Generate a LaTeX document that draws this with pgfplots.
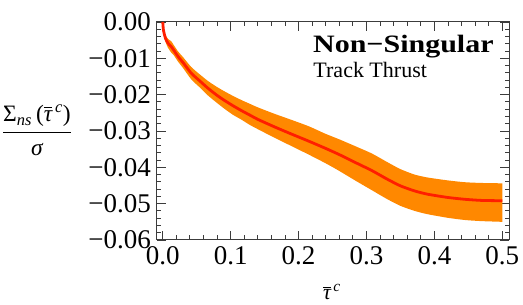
\documentclass[border=0pt]{standalone}
\usepackage{fontspec}
\setmainfont{Liberation Serif}
\usepackage{amsmath}
\usepackage{graphicx}
\usepackage{pgfplots}
\pgfplotsset{compat=1.18}
\usepgfplotslibrary{fillbetween}
\definecolor{bandorange}{RGB}{255,136,0}
\definecolor{linered}{RGB}{255,30,0}
\definecolor{framegray}{RGB}{60,60,60}
\begin{document}
\begin{tikzpicture}
\begin{axis}[
  at={(0pt,0pt)}, anchor=south west,
  scale only axis, width=352pt, height=218pt,
  xmin=-0.0085, xmax=0.5099, ymin=-0.06, ymax=0,
  clip=false,
  scaled y ticks=false, scaled x ticks=false,
  axis line style={framegray, line width=1pt},
  every tick/.style={framegray, line width=0.9pt},
  major tick length=9pt, minor tick length=4.5pt,
  tick align=inside,
  xtick={0,0.1,0.2,0.3,0.4,0.5},
  xticklabels={0.0,0.1,0.2,0.3,0.4,0.5},
  ytick={-0.06,-0.05,-0.04,-0.03,-0.02,-0.01,0},
  yticklabels={−0.06,−0.05,−0.04,−0.03,−0.02,−0.01,0.00},
  minor x tick num=4, minor y tick num=4,
  tick label style={font=\fontsize{27}{31}\selectfont},
  xticklabel style={inner sep=0pt, yshift=-6pt},
  yticklabel style={inner sep=0pt, xshift=-6pt},
]
\addplot[name path=up, draw=none, smooth, tension=0.4] coordinates {
(0,0) (0.0008,-0.0016) (0.002,-0.0025) (0.004,-0.0036) (0.008,-0.0047)
(0.0125,-0.0053) (0.016,-0.0063) (0.0225,-0.0081) (0.030,-0.0097)
(0.042,-0.0124) (0.055,-0.0145) (0.067,-0.0163) (0.080,-0.0179)
(0.091,-0.0191) (0.103,-0.0203) (0.116,-0.0215) (0.128,-0.0225)
(0.140,-0.0235) (0.165,-0.0253) (0.189,-0.0269) (0.215,-0.0287)
(0.240,-0.0308) (0.260,-0.0323) (0.285,-0.0343) (0.308,-0.0362)
(0.330,-0.0385) (0.350,-0.0405) (0.371,-0.0420) (0.390,-0.0428)
(0.420,-0.0436) (0.445,-0.0441) (0.469,-0.0443) (0.500,-0.0444)
};
\addplot[name path=lo, draw=none, smooth, tension=0.4] coordinates {
(0,0) (0.0008,-0.0024) (0.002,-0.0038) (0.004,-0.0055) (0.008,-0.0072)
(0.0125,-0.0084) (0.016,-0.0091) (0.0225,-0.0109) (0.030,-0.0127)
(0.042,-0.0158) (0.055,-0.0181) (0.067,-0.0203) (0.080,-0.0223)
(0.091,-0.0239) (0.103,-0.0255) (0.116,-0.0269) (0.128,-0.0283)
(0.140,-0.0295) (0.165,-0.0319) (0.189,-0.0341) (0.215,-0.0365)
(0.240,-0.0389) (0.260,-0.0410) (0.285,-0.0438) (0.308,-0.0463)
(0.330,-0.0487) (0.350,-0.0506) (0.371,-0.0520) (0.390,-0.0529)
(0.420,-0.0539) (0.445,-0.0545) (0.469,-0.0548) (0.500,-0.0550)
};
\addplot[bandorange, draw=none] fill between[of=up and lo];
\addplot[linered, line width=2.8pt, smooth, tension=0.4] coordinates {
(0,0) (0.0008,-0.0020) (0.002,-0.0031) (0.004,-0.0045) (0.008,-0.0059)
(0.0125,-0.0068) (0.016,-0.0077) (0.0225,-0.0095) (0.030,-0.0112)
(0.042,-0.0141) (0.055,-0.0163) (0.067,-0.0183) (0.080,-0.0202)
(0.091,-0.0216) (0.103,-0.0230) (0.116,-0.0244) (0.128,-0.0256)
(0.140,-0.0268) (0.165,-0.0289) (0.189,-0.0308) (0.215,-0.0328)
(0.240,-0.0348) (0.260,-0.0365) (0.285,-0.0388) (0.308,-0.0409)
(0.330,-0.0432) (0.350,-0.0451) (0.371,-0.0465) (0.390,-0.0474)
(0.420,-0.0483) (0.445,-0.0488) (0.469,-0.0491) (0.500,-0.0492)
};
\node[anchor=base west, inner sep=0pt, font=\fontsize{25}{30}\selectfont\bfseries]
  at (axis description cs:0.443,0.861) {\scalebox{1.2}[1]{Non−Singular}};
\node[anchor=base west, inner sep=0pt, font=\fontsize{22}{26}\selectfont]
  at (axis description cs:0.444,0.7445) {Track Thrust};
\node[anchor=base, inner sep=0pt, font=\fontsize{23.5}{28}\selectfont]
  at (axis description cs:-0.341,0.4645)
  {$\dfrac{\text{Σ}_{\textit{ns}}\,\text{(}\overline{\textit{τ}}^{\,\textit{c}}\text{)}}{\textit{σ}}$};
\node[anchor=base, inner sep=0pt, font=\fontsize{22}{26}\selectfont]
  at (axis description cs:0.497,-0.275)
  {$\overline{\textit{τ}}^{\,\textit{c}}$};
\end{axis}
\pgfresetboundingbox
\useasboundingbox (-157pt,-65pt) rectangle (366pt,240pt);
\end{tikzpicture}
\end{document}
